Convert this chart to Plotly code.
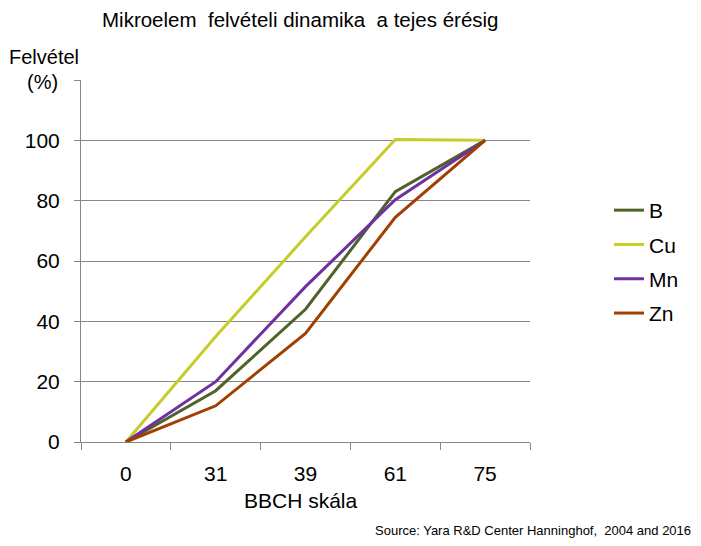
import plotly.graph_objects as go

categories = ["0", "31", "39", "61", "75"]
b_values = [0, 17, 44, 83, 100]
cu_values = [0, 35, 68, 100.3, 100]
mn_values = [0, 20, 51.5, 80.3, 100]
zn_values = [0, 12, 36, 74.5, 100]
y_tickvals = [0, 20, 40, 60, 80, 100, 120]
y_ticktext = ["0", "20", "40", "60", "80", "100", ""]

series = [
    ("B", b_values, "#4F6228"),
    ("Cu", cu_values, "#C6CC2A"),
    ("Mn", mn_values, "#7030A0"),
    ("Zn", zn_values, "#A04000"),
]

FONT = "Liberation Sans, Arial, sans-serif"
GRID = "#868686"

# page body has an 8px margin; figure is laid out in screen pixels minus that
OFF = 8
W, H = 693, 530
L, T = 81 - OFF, 80 - OFF
R = W - (530 - OFF)
B = H - (442 - OFF)
pw, ph = W - L - R, H - T - B


def px(x):
    return (x - OFF - L) / pw


def py(y):
    return (H - B - (y - OFF)) / ph


fig = go.Figure()
for name, vals, color in series:
    fig.add_trace(go.Scatter(
        x=categories, y=vals, name=name, mode="lines",
        line=dict(color=color, width=3),
        legendgroup=name,
    ))

fig.update_layout(
    width=W, height=H,
    margin=dict(l=L, r=R, t=T, b=B, autoexpand=False),
    paper_bgcolor="white", plot_bgcolor="white",
    font=dict(family=FONT, color="black", size=21),
    showlegend=True,
    legend=dict(
        x=px(609), xanchor="left", y=py(262), yanchor="middle",
        xref="paper", yref="paper",
        font=dict(size=21, family=FONT),
        tracegroupgap=4,
        bgcolor="rgba(0,0,0,0)",
        itemwidth=30,
    ),
    xaxis=dict(
        type="category", tickson="boundaries", range=[-0.5, 4.5],
        showgrid=False, showline=True, linecolor=GRID, linewidth=1,
        ticks="outside", ticklen=7, tickcolor=GRID,
        tickfont=dict(size=21), ticklabelstandoff=13,
        zeroline=False,
    ),
    yaxis=dict(
        range=[0, 120], tickvals=y_tickvals, ticktext=y_ticktext,
        showgrid=True, gridcolor=GRID, gridwidth=1,
        showline=True, linecolor=GRID, linewidth=1,
        ticks="outside", ticklen=6, tickcolor=GRID,
        tickfont=dict(size=21), ticklabelstandoff=10,
        zeroline=False,
    ),
    annotations=[
        dict(text="Mikroelem  felvételi dinamika  a tejes érésig",
             x=px(300), y=py(20), xref="paper", yref="paper", showarrow=False,
             font=dict(size=20.5), xanchor="center", yanchor="middle"),
        dict(text="Felvétel", x=px(44), y=py(57), xref="paper", yref="paper",
             showarrow=False, font=dict(size=20),
             xanchor="center", yanchor="middle"),
        dict(text="(%)", x=px(42), y=py(82), xref="paper", yref="paper",
             showarrow=False, font=dict(size=20),
             xanchor="center", yanchor="middle"),
        dict(text="BBCH skála", x=px(301), y=py(500), xref="paper", yref="paper",
             showarrow=False, font=dict(size=21),
             xanchor="center", yanchor="middle"),
        dict(text="Source: Yara R&amp;D Center Hanninghof,  2004 and 2016",
             x=px(693), y=py(530), xref="paper", yref="paper", showarrow=False,
             font=dict(size=13), xanchor="right", yanchor="middle"),
    ],
)

fig.write_html("out.html")
